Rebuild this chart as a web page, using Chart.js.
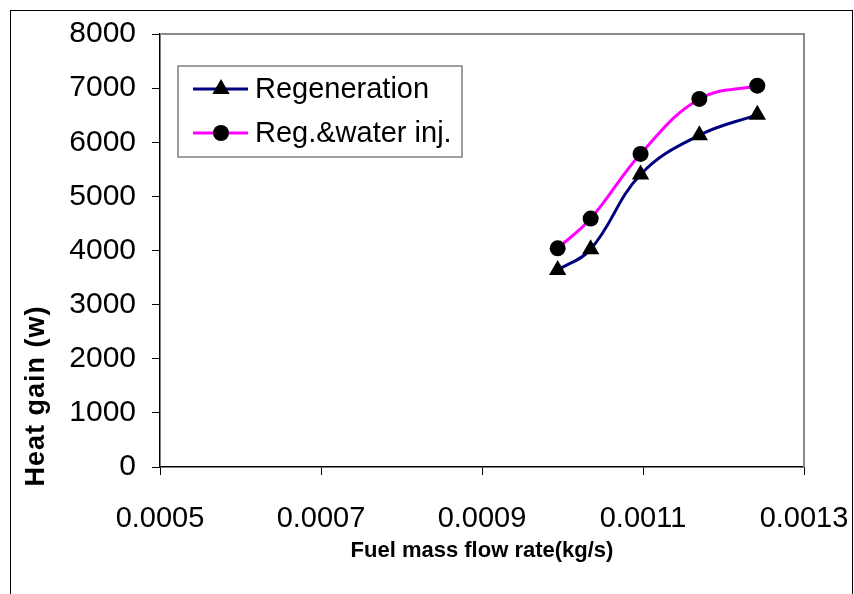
<!DOCTYPE html>
<html>
<head>
<meta charset="utf-8">
<script src="https://cdn.jsdelivr.net/npm/chart.js@4.4.1/dist/chart.umd.min.js"></script>
<style>
    body { margin: 0; background: #fff; }
    #frame {
        position: absolute; left: 10px; top: 10px;
        width: 841px; height: 600px;
        border: 1px solid #000; border-bottom: none;
    }
    #wrap { position: absolute; left: 0; top: 0; width: 854px; height: 594px; }
</style>
</head>
<body>
<div id="frame"></div>
<div id="wrap"><canvas id="heatChart" width="854" height="594"></canvas></div>
<script>
const fuelFlow = [0.000994, 0.001035, 0.001097, 0.00117, 0.001242];
const regeneration = [3640, 4025, 5405, 6130, 6510];
const regWaterInj = [4040, 4590, 5785, 6800, 7045];
const xTicks = [0.0005, 0.0007, 0.0009, 0.0011, 0.0013];
const yTicks = [0, 1000, 2000, 3000, 4000, 5000, 6000, 7000, 8000];

const font = "Liberation Sans, Arial, sans-serif";

function toPoints(ys) {
    return fuelFlow.map((x, i) => ({ x: x, y: ys[i] }));
}

function marker(ctx, style, x, y, r) {
    ctx.beginPath();
    if (style === "triangle") {
        ctx.moveTo(x, y - r);
        ctx.lineTo(x + r * 0.866, y + r / 2);
        ctx.lineTo(x - r * 0.866, y + r / 2);
        ctx.closePath();
    } else {
        ctx.arc(x, y, r, 0, Math.PI * 2);
    }
    ctx.fillStyle = "#000";
    ctx.fill();
}

// gray top / right frame of the plot area, y title and boxed legend
const extras = {
    id: "extras",
    beforeDatasetsDraw(chart) {
        const { ctx, chartArea: a } = chart;
        ctx.save();
        ctx.strokeStyle = "#8a8a8a";
        ctx.lineWidth = 2;
        ctx.beginPath();
        ctx.moveTo(a.left, a.top);
        ctx.lineTo(a.right, a.top);
        ctx.lineTo(a.right, a.bottom);
        ctx.stroke();
        ctx.restore();
    },
    afterDraw(chart) {
        const ctx = chart.ctx;
        ctx.save();
        // y axis title
        ctx.translate(37, 396);
        ctx.rotate(-Math.PI / 2);
        ctx.font = "bold 27px " + font;
        ctx.letterSpacing = "1px";
        ctx.fillStyle = "#000";
        ctx.textAlign = "center";
        ctx.textBaseline = "middle";
        ctx.fillText("Heat gain (w)", 0, 0);
        ctx.restore();

        // legend
        ctx.save();
        ctx.fillStyle = "#fff";
        ctx.fillRect(178, 66, 284, 91);
        ctx.strokeStyle = "#808080";
        ctx.lineWidth = 1.5;
        ctx.strokeRect(178, 66, 284, 91);
        ctx.font = "29px " + font;
        ctx.textBaseline = "middle";
        const rows = [89, 133];
        chart.data.datasets.forEach((ds, i) => {
            const y = rows[i];
            ctx.strokeStyle = ds.borderColor;
            ctx.lineWidth = 3;
            ctx.beginPath();
            ctx.moveTo(193, y);
            ctx.lineTo(248, y);
            ctx.stroke();
            marker(ctx, ds.pointStyle, 221, y, ds.pointRadius);
            ctx.fillStyle = "#000";
            ctx.fillText(ds.label, 255, y + 1);
        });
        ctx.restore();
    }
};

new Chart(document.getElementById("heatChart"), {
    type: "line",
    data: {
        datasets: [
            {
                label: "Regeneration",
                data: toPoints(regeneration),
                borderColor: "#000080",
                borderWidth: 3,
                pointStyle: "triangle",
                pointRadius: 10,
                pointBackgroundColor: "#000",
                pointBorderColor: "#000",
                pointBorderWidth: 0,
                tension: 0.4,
                fill: false
            },
            {
                label: "Reg.&water inj.",
                data: toPoints(regWaterInj),
                borderColor: "#ff00ff",
                borderWidth: 3,
                pointStyle: "circle",
                pointRadius: 8,
                pointBackgroundColor: "#000",
                pointBorderColor: "#000",
                pointBorderWidth: 0,
                tension: 0.4,
                fill: false
            }
        ]
    },
    options: {
        responsive: false,
        animation: false,
        layout: { padding: { top: 34, right: 50, left: 0, bottom: 0 } },
        plugins: {
            legend: { display: false },
            tooltip: { enabled: false }
        },
        scales: {
            x: {
                type: "linear",
                min: 0.0005,
                max: 0.0013,
                afterFit: (s) => {
                    s.height = 127;
                    s.paddingLeft = 0;
                    s.paddingRight = 0;
                },
                afterBuildTicks: (s) => { s.ticks = xTicks.map(v => ({ value: v })); },
                ticks: {
                    color: "#000",
                    padding: 27,
                    maxRotation: 0,
                    autoSkip: false,
                    font: { family: font, size: 29 },
                    callback: (v) => v.toFixed(4)
                },
                grid: {
                    drawOnChartArea: false,
                    drawTicks: true,
                    tickLength: 8,
                    tickColor: "#000"
                },
                border: { display: true, color: "#000", width: 1.5 },
                title: {
                    display: true,
                    text: "Fuel mass flow rate(kg/s)",
                    color: "#000",
                    font: { family: font, size: 22, weight: "bold" },
                    padding: { top: 0, bottom: 30 }
                }
            },
            y: {
                min: 0,
                max: 8000,
                afterFit: (s) => {
                    s.width = 160;
                    s.paddingTop = 0;
                    s.paddingBottom = 0;
                },
                afterBuildTicks: (s) => { s.ticks = yTicks.map(v => ({ value: v })); },
                ticks: {
                    color: "#000",
                    padding: 16,
                    font: { family: font, size: 30 },
                    callback: (v) => String(v)
                },
                grid: {
                    drawOnChartArea: false,
                    drawTicks: true,
                    tickLength: 8,
                    tickColor: "#000"
                },
                border: { display: true, color: "#000", width: 1.5 }
            }
        }
    },
    plugins: [extras]
});
</script>
</body>
</html>
